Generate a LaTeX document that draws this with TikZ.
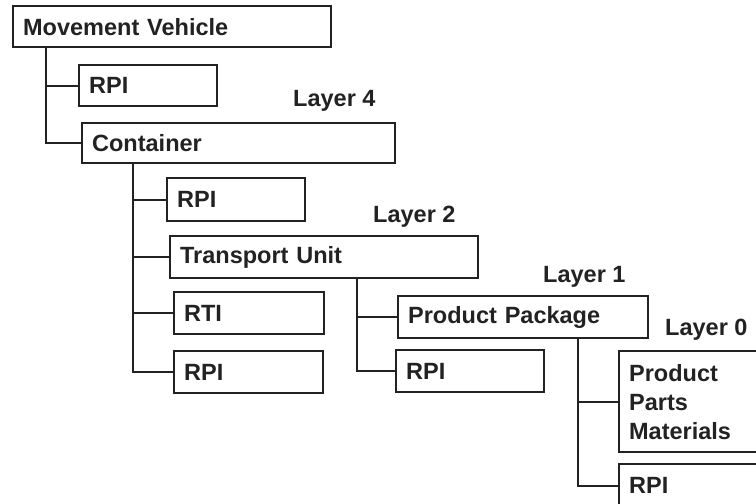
\documentclass[tikz,border=0pt]{standalone}
\usepackage{fontspec}
\setmainfont{Liberation Sans}
\definecolor{ink}{HTML}{222222}
\begin{document}
\begin{tikzpicture}[x=1pt,y=-1pt,
  font=\fontsize{23.5}{29}\selectfont\bfseries,
  box/.style={draw=ink,line width=2.3pt,text=ink,anchor=north west,rectangle,
    inner xsep=10pt,inner ysep=0pt,align=left},
  lay/.style={anchor=base west,text=ink,inner sep=0pt},
  conn/.style={draw=ink,line width=2.3pt}]
\useasboundingbox[fill=white] (0,0) rectangle (756,504);
\clip (0,0) rectangle (756,504);
% boxes
\node[box,text width=298pt,minimum height=41pt] (mv) at (12,5) {Movement Vehicle};
\node[box,text width=118pt,minimum height=41pt] (rpia) at (78,64) {RPI};
\node[box,text width=293pt,minimum height=40pt] (cont) at (81,122) {Container};
\node[box,text width=118pt,minimum height=43pt] (rpib) at (166,177) {RPI};
\node[box,text width=288pt,minimum height=42pt] (tu) at (169,235) {Transport Unit};
\node[box,text width=130pt,minimum height=42pt] (rti) at (173,291) {RTI};
\node[box,text width=129pt,minimum height=42pt] (rpic) at (173,350) {RPI};
\node[box,text width=230pt,minimum height=42pt] (pp) at (397,295) {Product Package};
\node[box,text width=128pt,minimum height=42pt] (rpid) at (395,349) {RPI};
\node[box,text width=132pt,minimum height=101pt] (ppm) at (618,350) {Product\\Parts\\Materials};
\node[box,text width=132pt,minimum height=43pt] (rpie) at (618,463) {RPI};
% layer labels
\node[lay] (l4) at (293,106) {Layer 4};
\node[lay] (l2) at (373,222) {Layer 2};
\node[lay] (l1) at (543,282) {Layer 1};
\node[lay] (l0) at (665,335) {Layer 0};
% connectors
\draw[conn] ([xshift=34pt]mv.south west) |- (rpia.west);
\draw[conn] ([xshift=34pt]mv.south west) |- (cont.west);
\draw[conn] ([xshift=52pt]cont.south west) |- (rpib.west);
\draw[conn] ([xshift=52pt]cont.south west) |- (tu.west);
\draw[conn] ([xshift=52pt]cont.south west) |- (rti.west);
\draw[conn] ([xshift=52pt]cont.south west) |- (rpic.west);
\draw[conn] ([xshift=188pt]tu.south west) |- (pp.west);
\draw[conn] ([xshift=188pt]tu.south west) |- (rpid.west);
\draw[conn] ([xshift=181pt]pp.south west) |- (ppm.west);
\draw[conn] ([xshift=181pt]pp.south west) |- (rpie.west);
\end{tikzpicture}
\end{document}
